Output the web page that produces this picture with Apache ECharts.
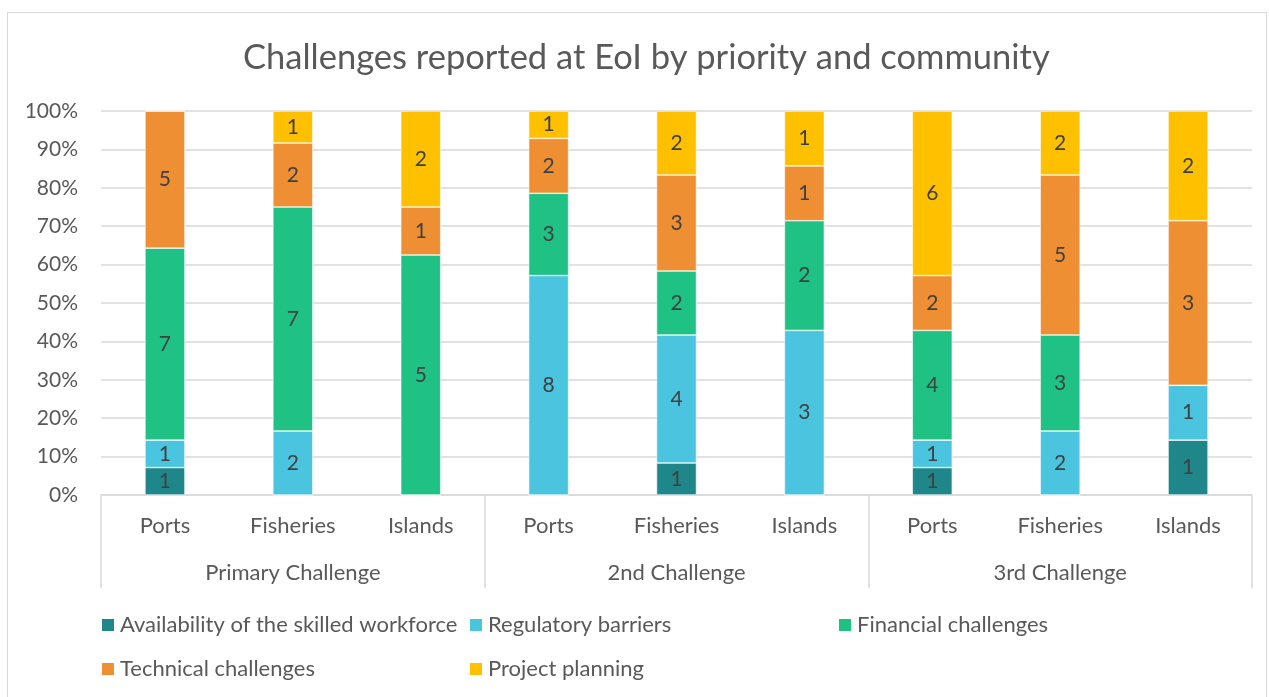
<!DOCTYPE html>
<html>
<head>
<meta charset="utf-8">
<script src="https://cdn.jsdelivr.net/npm/echarts@6/dist/echarts.min.js"></script>
<style>
  body { margin: 0; background: #fff; }
  #frame { position: absolute; left: 7px; top: 12px; width: 1258px; height: 700px; border: 1px solid #d9d9d9; }
  #main { position: absolute; left: 0; top: 0; width: 1269px; height: 697px; }
</style>
</head>
<body>
<div id="frame"></div>
<div id="main"></div>
<script>
// categories
var communities = ['Ports', 'Fisheries', 'Islands', 'Ports', 'Fisheries', 'Islands', 'Ports', 'Fisheries', 'Islands'];
var priorities = ['Primary Challenge', '2nd Challenge', '3rd Challenge'];
var yTicks = ['0%', '10%', '20%', '30%', '40%', '50%', '60%', '70%', '80%', '90%', '100%'];

// counts per challenge type
var skilledWorkforce = [1, 0, 0, 0, 1, 0, 1, 0, 1];
var regulatory       = [1, 2, 0, 8, 4, 3, 1, 2, 1];
var financial        = [7, 7, 5, 3, 2, 2, 4, 3, 0];
var technical        = [5, 2, 1, 2, 3, 1, 2, 5, 3];
var planning         = [0, 1, 2, 1, 2, 1, 6, 2, 2];

var seriesNames = ['Availability of the skilled workforce', 'Regulatory barriers', 'Financial challenges', 'Technical challenges', 'Project planning'];
var seriesColors = ['#1f878a', '#4bc5df', '#20c185', '#ee8f33', '#ffc000'];
var counts = [skilledWorkforce, regulatory, financial, technical, planning];

// bars are drawn as share of the column total (100% stacked)
var totals = communities.map(function (c, i) {
    var t = 0;
    counts.forEach(function (arr) { t += arr[i]; });
    return t;
});

var font = 'Lato, "Open Sans", sans-serif';

var myChart = echarts.init(document.getElementById('main'));

var series = counts.map(function (arr, k) {
    return {
        name: seriesNames[k],
        type: 'bar',
        stack: 'all',
        barWidth: 40,
        itemStyle: { color: seriesColors[k], borderColor: '#fff', borderWidth: 0.6 },
        label: {
            show: true,
            position: 'inside',
            color: '#404040',
            fontSize: 21,
            fontFamily: font,
            formatter: function (p) { return arr[p.dataIndex] > 0 ? arr[p.dataIndex] : ''; }
        },
        data: arr.map(function (v, i) { return v / totals[i] * 100; })
    };
});

var legendStyle = { color: '#595959', fontSize: 22, lineHeight: 22, fontFamily: font };

function legendCol(left, names) {
    return {
        orient: 'vertical', left: left, top: 614, padding: 0,
        itemWidth: 14, itemHeight: 14, itemGap: 22, icon: 'rect',
        textStyle: legendStyle, data: names, selectedMode: false
    };
}

var option = {
    animation: false,
    title: {
        text: 'Challenges reported at EoI by priority and community',
        left: 238,
        top: 35,
        textStyle: { color: '#595959', fontSize: 34.5, fontWeight: 'normal', fontFamily: font }
    },
    grid: { left: 101, right: 17, top: 111, bottom: 202, containLabel: false },
    legend: [
        legendCol(100, [seriesNames[0], seriesNames[3]]),
        legendCol(468, [seriesNames[1], seriesNames[4]]),
        legendCol(837, [seriesNames[2]])
    ],
    xAxis: [
        {
            type: 'category',
            data: communities,
            position: 'bottom',
            axisLine: { lineStyle: { color: '#d9d9d9', width: 1.5 } },
            axisTick: { show: false },
            axisLabel: { color: '#595959', fontSize: 22, fontFamily: font, margin: 20 }
        },
        {
            type: 'category',
            data: priorities,
            position: 'bottom',
            offset: 0,
            axisLine: { show: false },
            axisTick: { show: true, length: 93, lineStyle: { color: '#d9d9d9', width: 1.5 } },
            axisLabel: { color: '#595959', fontSize: 22, fontFamily: font, margin: 67 }
        }
    ],
    yAxis: {
        type: 'value',
        min: 0,
        max: 100,
        interval: 10,
        axisLine: { show: false },
        axisTick: { show: false },
        splitLine: { lineStyle: { color: '#d9d9d9', width: 1.5 } },
        axisLabel: {
            color: '#595959', fontSize: 21, fontFamily: font, margin: 23,
            formatter: function (v) { return yTicks[Math.round(v / 10)]; }
        }
    },
    series: series
};

myChart.setOption(option);
</script>
</body>
</html>
